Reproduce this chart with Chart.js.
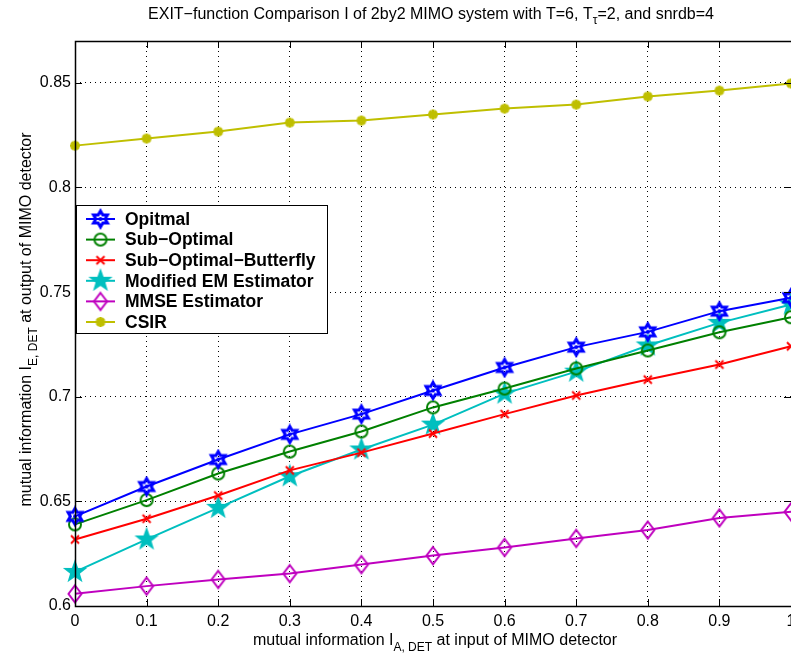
<!DOCTYPE html>
<html><head><meta charset="utf-8">
<script src="https://cdn.jsdelivr.net/npm/chart.js@4/dist/chart.umd.min.js"></script>
<style>html,body{margin:0;padding:0;background:#fff;overflow:hidden}#wrap{width:791px;height:658px;overflow:hidden;position:relative}canvas{display:block}</style>
</head><body><div id="wrap"><canvas id="c" width="815" height="658"></canvas></div>
<script>
const xValues = [0, 0.1, 0.2, 0.3, 0.4, 0.5, 0.6, 0.7, 0.8, 0.9, 1];
const optimal = [0.6428, 0.6571, 0.6700, 0.6820, 0.6917, 0.7030, 0.7140, 0.7237, 0.7310, 0.7409, 0.7473];
const subOptimal = [0.6390, 0.6506, 0.6633, 0.6738, 0.6834, 0.6949, 0.7039, 0.7135, 0.7221, 0.7308, 0.7380];
const butterfly = [0.6318, 0.6417, 0.6528, 0.6648, 0.6733, 0.6824, 0.6917, 0.7006, 0.7082, 0.7154, 0.7241];
const modifiedEM = [0.6163, 0.6318, 0.6469, 0.6620, 0.6748, 0.6867, 0.7015, 0.7120, 0.7245, 0.7353, 0.7441];
const mmse = [0.6058, 0.6095, 0.6127, 0.6155, 0.6198, 0.6241, 0.6280, 0.6323, 0.6363, 0.6421, 0.6450];
const csir = [0.8200, 0.8234, 0.8267, 0.8310, 0.8320, 0.8349, 0.8377, 0.8396, 0.8435, 0.8463, 0.8497];
const seriesNames = ['Opitmal', 'Sub\u2212Optimal', 'Sub\u2212Optimal\u2212Butterfly', 'Modified EM Estimator', 'MMSE Estimator', 'CSIR'];
const xTicks = [0, 0.1, 0.2, 0.3, 0.4, 0.5, 0.6, 0.7, 0.8, 0.9, 1];
const yTicks = [0.6, 0.65, 0.7, 0.75, 0.8, 0.85];
const titleParts = ['EXIT\u2212function Comparison I of 2by2 MIMO system with T=6, T', '\u03c4', '=2, and snrdb=4'];
const xTitleParts = ['mutual information I', 'A, DET', ' at input of MIMO detector'];
const yTitleParts = ['mutual information I', 'E, DET', ' at output of MIMO detector'];

const FONT = '"Liberation Sans", Arial, Helvetica, sans-serif';
const VIEW_RIGHT = 791;

function mk(size, draw) {
  const c = document.createElement('canvas');
  c.width = size; c.height = size;
  const g = c.getContext('2d');
  g.translate(size / 2, size / 2);
  draw(g);
  return c;
}
function starPath(g, n, R, r) {
  g.beginPath();
  for (let i = 0; i < 2 * n; i++) {
    const a = -Math.PI / 2 + i * Math.PI / n;
    const rad = i % 2 === 0 ? R : r;
    const x = rad * Math.cos(a), y = rad * Math.sin(a);
    if (i === 0) g.moveTo(x, y); else g.lineTo(x, y);
  }
  g.closePath();
}
const colors = ['#0000ff', '#008000', '#ff0000', '#00bfbf', '#bf00bf', '#bfbf00'];
const markers = [
  mk(22, g => { starPath(g, 6, 8, 8 / Math.sqrt(3)); g.strokeStyle = colors[0]; g.lineWidth = 3; g.lineJoin = 'miter'; g.stroke();
    g.beginPath(); g.arc(0, 0, 2, 0, Math.PI * 2); g.fillStyle = colors[0]; g.fill(); }),
  mk(18, g => { g.beginPath(); g.arc(0, 0, 6, 0, Math.PI * 2); g.strokeStyle = colors[1]; g.lineWidth = 2; g.stroke(); }),
  mk(14, g => { g.beginPath(); g.moveTo(-4, -4); g.lineTo(4, 4); g.moveTo(4, -4); g.lineTo(-4, 4); g.strokeStyle = colors[2]; g.lineWidth = 2; g.stroke(); }),
  mk(26, g => { starPath(g, 5, 10.5, 4.2); g.fillStyle = colors[3]; g.fill(); g.strokeStyle = colors[3]; g.lineWidth = 1.5; g.stroke(); }),
  mk(22, g => { g.beginPath(); g.moveTo(0, -8.5); g.lineTo(6.5, 0); g.lineTo(0, 8.5); g.lineTo(-6.5, 0); g.closePath(); g.strokeStyle = colors[4]; g.lineWidth = 2; g.stroke(); }),
  mk(16, g => { g.strokeStyle = colors[5]; g.lineWidth = 3; g.beginPath();
    for (let i = 0; i < 4; i++) { const a = i * Math.PI / 4; g.moveTo(-5 * Math.cos(a), -5 * Math.sin(a)); g.lineTo(5 * Math.cos(a), 5 * Math.sin(a)); }
    g.stroke(); g.beginPath(); g.arc(0, 0, 3, 0, Math.PI * 2); g.fillStyle = colors[5]; g.fill(); })
];
const allSeries = [optimal, subOptimal, butterfly, modifiedEM, mmse, csir];
const datasets = allSeries.map((arr, i) => ({
  label: seriesNames[i],
  data: arr.map((v, j) => ({x: xValues[j], y: v})),
  borderColor: colors[i],
  backgroundColor: colors[i],
  borderWidth: 2,
  pointStyle: markers[i],
  pointRadius: 6,
  pointHoverRadius: 6,
  tension: 0,
  clip: false
}));

function drawSub(ctx, parts, x, y, mainSize, subSize, subDrop, align) {
  ctx.font = mainSize + 'px ' + FONT;
  const w0 = ctx.measureText(parts[0]).width;
  const w2 = ctx.measureText(parts[2]).width;
  ctx.font = subSize + 'px ' + FONT;
  const w1 = ctx.measureText(parts[1]).width;
  const total = w0 + w1 + w2;
  let sx = align === 'center' ? x - total / 2 : x;
  ctx.textAlign = 'left';
  ctx.textBaseline = 'alphabetic';
  ctx.font = mainSize + 'px ' + FONT;
  ctx.fillText(parts[0], sx, y);
  ctx.font = subSize + 'px ' + FONT;
  ctx.fillText(parts[1], sx + w0, y + subDrop);
  ctx.font = mainSize + 'px ' + FONT;
  ctx.fillText(parts[2], sx + w0 + w1, y);
}

const decor = {
  id: 'decor',
  afterDatasetsDraw(chart) {
    const ctx = chart.ctx;
    const a = chart.chartArea;
    const xs = chart.scales.x, ys = chart.scales.y;
    ctx.save();
    // inward ticks
    ctx.strokeStyle = '#000';
    ctx.lineWidth = 1;
    ctx.beginPath();
    xTicks.forEach(v => {
      const px = Math.round(xs.getPixelForValue(v)) + 0.5;
      ctx.moveTo(px, a.bottom); ctx.lineTo(px, a.bottom - 7);
      ctx.moveTo(px, a.top); ctx.lineTo(px, a.top + 7);
    });
    yTicks.forEach(v => {
      const py = Math.round(ys.getPixelForValue(v)) + 0.5;
      ctx.moveTo(a.left, py); ctx.lineTo(a.left + 7, py);
      ctx.moveTo(a.right, py); ctx.lineTo(a.right - 7, py);
    });
    ctx.stroke();
    // box (left, top, bottom; right side lies at the window edge)
    ctx.lineWidth = 1.5;
    ctx.beginPath();
    ctx.moveTo(a.right + 2, a.top + 0.5);
    ctx.lineTo(a.left + 0.5, a.top + 0.5);
    ctx.lineTo(a.left + 0.5, a.bottom + 0.5);
    ctx.lineTo(a.right + 2, a.bottom + 0.5);
    ctx.stroke();

    // legend
    const lx = 76.5, ly = 205.5, lw = 251, lh = 128;
    ctx.fillStyle = '#fff';
    ctx.fillRect(lx, ly, lw, lh);
    ctx.strokeStyle = '#000';
    ctx.lineWidth = 1;
    ctx.strokeRect(lx, ly, lw, lh);
    chart.data.datasets.forEach((ds, i) => {
      const cy = 219 + i * 20.6;
      ctx.strokeStyle = ds.borderColor;
      ctx.lineWidth = 2;
      ctx.beginPath(); ctx.moveTo(86, cy); ctx.lineTo(115, cy); ctx.stroke();
      const m = ds.pointStyle;
      ctx.drawImage(m, 100.5 - m.width / 2, cy - m.height / 2);
      ctx.fillStyle = '#000';
      ctx.font = 'bold 17.5px ' + FONT;
      ctx.textAlign = 'left';
      ctx.textBaseline = 'middle';
      ctx.fillText(ds.label, 125, cy + 1);
    });

    // title
    ctx.fillStyle = '#000';
    drawSub(ctx, titleParts, (a.left + a.right) / 2 - 2, 19, 16, 12, 5, 'center');
    // x title
    drawSub(ctx, xTitleParts, (a.left + a.right) / 2 + 2, 645, 16, 12, 6, 'center');
    // y title
    ctx.save();
    ctx.translate(31, (a.top + a.bottom) / 2 - 4);
    ctx.rotate(-Math.PI / 2);
    drawSub(ctx, yTitleParts, 0, 0, 16, 12, 6, 'center');
    ctx.restore();
    ctx.restore();
  }
};

const canvasEl = document.getElementById('c');
new Chart(canvasEl, {
  type: 'line',
  data: {datasets},
  options: {
    responsive: false,
    animation: false,
    events: [],
    layout: {padding: {top: 41, left: 0, right: canvasEl.width - VIEW_RIGHT, bottom: 0}},
    plugins: {legend: {display: false}, tooltip: {enabled: false}, title: {display: false}},
    scales: {
      x: {
        type: 'linear', min: 0, max: 1,
        afterBuildTicks: s => { s.ticks = xTicks.map(v => ({value: v})); },
        afterFit: s => { s.height = 52; },
        ticks: {color: '#000', font: {size: 16, family: FONT}, padding: 6, maxRotation: 0, autoSkip: false,
          callback: v => String(v)},
        grid: {color: '#000', lineWidth: 1, drawTicks: false},
        border: {display: false, dash: [1, 4]}
      },
      y: {
        type: 'linear', min: 0.6, max: 0.87,
        afterBuildTicks: s => { s.ticks = yTicks.map(v => ({value: v})); },
        afterFit: s => { s.width = 75; s.paddingTop = 0; s.paddingBottom = 0; },
        ticks: {color: '#000', font: {size: 16, family: FONT}, padding: 4, autoSkip: false,
          callback: v => String(v)},
        grid: {color: '#000', lineWidth: 1, drawTicks: false},
        border: {display: false, dash: [1, 4]}
      }
    }
  },
  plugins: [decor]
});
</script></body></html>
